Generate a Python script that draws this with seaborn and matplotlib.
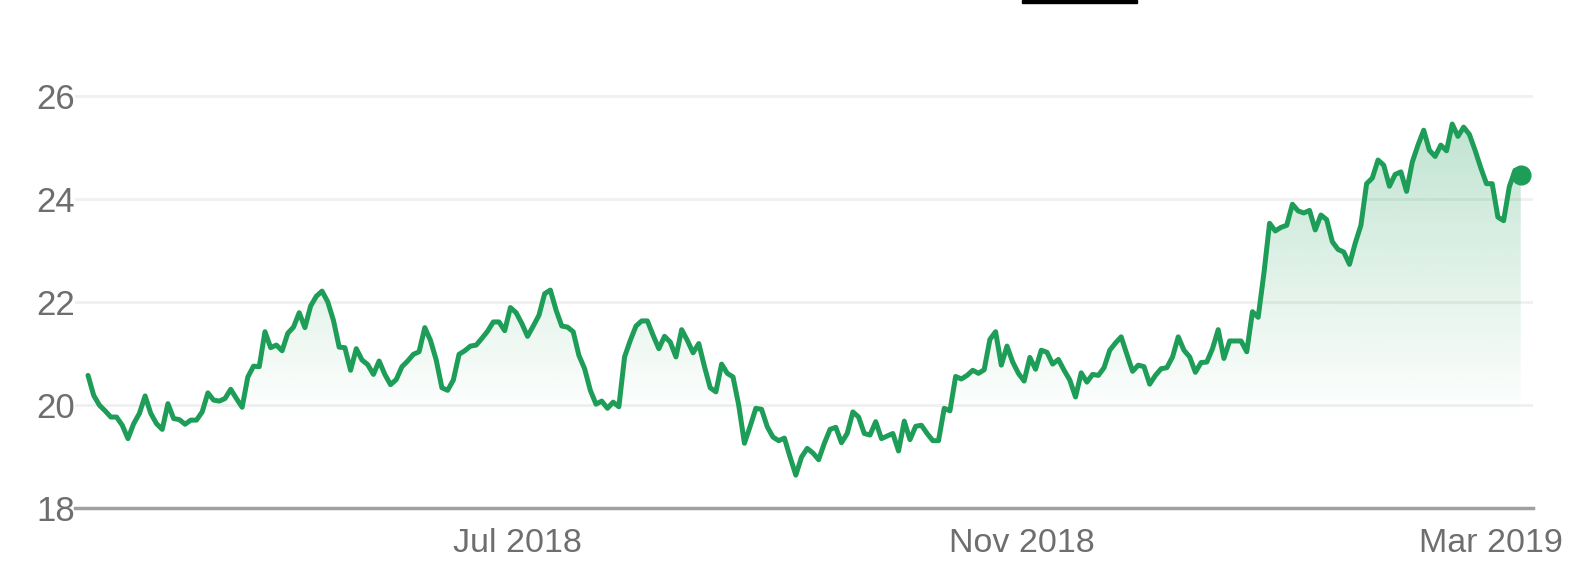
import numpy as np
import pandas as pd
import matplotlib
matplotlib.use("Agg")
import matplotlib.pyplot as plt
import seaborn as sns
from matplotlib.colors import to_rgb
from matplotlib.patches import Rectangle

# daily closing prices (Mar 2018 - Mar 2019)
prices_spring = [20.57, 20.18, 19.99, 19.88, 19.76, 19.76, 19.60, 19.34, 19.63, 19.83,
                 20.17, 19.83, 19.63, 19.52, 20.02, 19.73, 19.71, 19.62, 19.70, 19.70,
                 19.86, 20.23, 20.09, 20.07, 20.12, 20.30, 20.12, 19.95, 20.54, 20.75,
                 20.74, 21.42, 21.11, 21.16, 21.05, 21.39, 21.51, 21.79, 21.50, 21.92,
                 22.11, 22.21]
prices_summer = [22.00, 21.64, 21.12, 21.11, 20.67, 21.09, 20.87, 20.78, 20.59, 20.85,
                 20.59, 20.39, 20.49, 20.74, 20.85, 20.98, 21.03, 21.50, 21.25, 20.87,
                 20.33, 20.28, 20.48, 20.98, 21.05, 21.14, 21.16, 21.29, 21.43, 21.61,
                 21.61, 21.44, 21.89, 21.79, 21.58, 21.33, 21.53, 21.74, 22.16, 22.23,
                 21.84, 21.53, 21.51, 21.42]
prices_autumn = [20.96, 20.70, 20.28, 20.01, 20.07, 19.93, 20.05, 19.96, 20.93, 21.25,
                 21.53, 21.63, 21.63, 21.35, 21.09, 21.33, 21.22, 20.93, 21.46, 21.25,
                 21.01, 21.19, 20.74, 20.33, 20.25, 20.79, 20.61, 20.54, 19.99, 19.25,
                 19.58, 19.93, 19.91, 19.57, 19.37, 19.30, 19.35, 18.98, 18.63, 18.98,
                 19.15, 19.06, 18.93]
prices_late_autumn = [19.25, 19.52, 19.56, 19.26, 19.44, 19.86, 19.76, 19.44, 19.41, 19.67,
                      19.34, 19.39, 19.44, 19.10, 19.68, 19.32, 19.58, 19.60, 19.44, 19.30,
                      19.30, 19.93, 19.88, 20.55, 20.50, 20.57, 20.67, 20.61, 20.68, 21.27,
                      21.42, 20.77, 21.14, 20.83, 20.61, 20.46, 20.92, 20.69, 21.06, 21.02,
                      20.79, 20.88, 20.67, 20.48, 20.15]
prices_winter = [20.62, 20.44, 20.59, 20.57, 20.72, 21.06, 21.20, 21.32, 20.98, 20.65,
                 20.77, 20.74, 20.40, 20.57, 20.70, 20.72, 20.93, 21.32, 21.06, 20.93,
                 20.63, 20.82, 20.83, 21.09, 21.46, 20.90, 21.24, 21.24, 21.24, 21.03,
                 21.81, 21.70, 22.55, 23.53, 23.38, 23.45, 23.49, 23.90, 23.77, 23.73,
                 23.78, 23.40, 23.69, 23.60]
prices_2019 = [23.17, 23.02, 22.97, 22.73, 23.14, 23.49, 24.30, 24.41, 24.76, 24.66,
               24.25, 24.48, 24.53, 24.15, 24.72, 25.05, 25.34, 24.95, 24.83, 25.05,
               24.94, 25.46, 25.22, 25.40, 25.26, 24.95, 24.61, 24.30, 24.30, 23.65,
               23.58, 24.24, 24.56, 24.47]

tick_labels = ["Jul 2018", "Nov 2018", "Mar 2019"]
tick_days = [75.3, 163.6, 245.7]
y_ticks = [18, 20, 22, 24, 26]

GREEN = "#1d9d58"
GREY_TEXT = "#6e6e6e"

price = (prices_spring + prices_summer + prices_autumn
         + prices_late_autumn + prices_winter + prices_2019)
df = pd.DataFrame({"day": np.arange(len(price)), "price": price})
n = len(df)

sns.set_style("white")
plt.rcParams["font.family"] = ["Liberation Sans", "DejaVu Sans"]

fig = plt.figure(figsize=(15.71, 5.64), dpi=100)
ax = fig.add_axes([75 / 1571, 56.5 / 564, 1458 / 1571, 462.6 / 564])

# vertical gradient under the line
poly = ax.fill_between(df["day"], df["price"], 18, facecolor="none", edgecolor="none")
levels = np.linspace(18, 27, 400)
rgba = np.zeros((len(levels), 1, 4))
rgba[..., :3] = to_rgb(GREEN)
rgba[:, 0, 3] = np.clip(0.048 * (levels - 19.7), 0, 1)
im = ax.imshow(rgba, extent=[0, n - 1, 18, 27], origin="lower",
               aspect="auto", interpolation="bilinear", zorder=1)
im.set_clip_path(poly.get_paths()[0], transform=ax.transData)

sns.lineplot(data=df, x="day", y="price", color=GREEN, lw=3.6,
             solid_joinstyle="round", ax=ax, zorder=3)
ax.plot(df["day"].iloc[-1], df["price"].iloc[-1], "o", ms=13.5,
        color=GREEN, zorder=4)

ax.set_xlim(-2.28, n - 1 + 2.15)
ax.set_ylim(18, 27)
ax.set_yticks(y_ticks)
ax.set_xticks(tick_days)
ax.set_xticklabels(tick_labels)
ax.set_xlabel("")
ax.set_ylabel("")

ax.yaxis.grid(True, color="#f0f0f0", lw=2)
ax.xaxis.grid(False)
ax.set_axisbelow(True)
for side in ["top", "right", "left"]:
    ax.spines[side].set_visible(False)
ax.spines["bottom"].set_color("#a0a0a0")
ax.spines["bottom"].set_linewidth(2.5)

ax.tick_params(axis="y", length=0, pad=0, labelsize=25, labelcolor=GREY_TEXT)
ax.tick_params(axis="x", length=12, width=1.3, color="#a0a0a0", pad=3,
               labelsize=24.5, labelcolor=GREY_TEXT)

# selected-range underline at the top
fig.add_artist(Rectangle((1022 / 1571, 561 / 564), 115 / 1571, 3 / 564,
                         transform=fig.transFigure, color="black"))

fig.savefig("out.png", dpi=100)
